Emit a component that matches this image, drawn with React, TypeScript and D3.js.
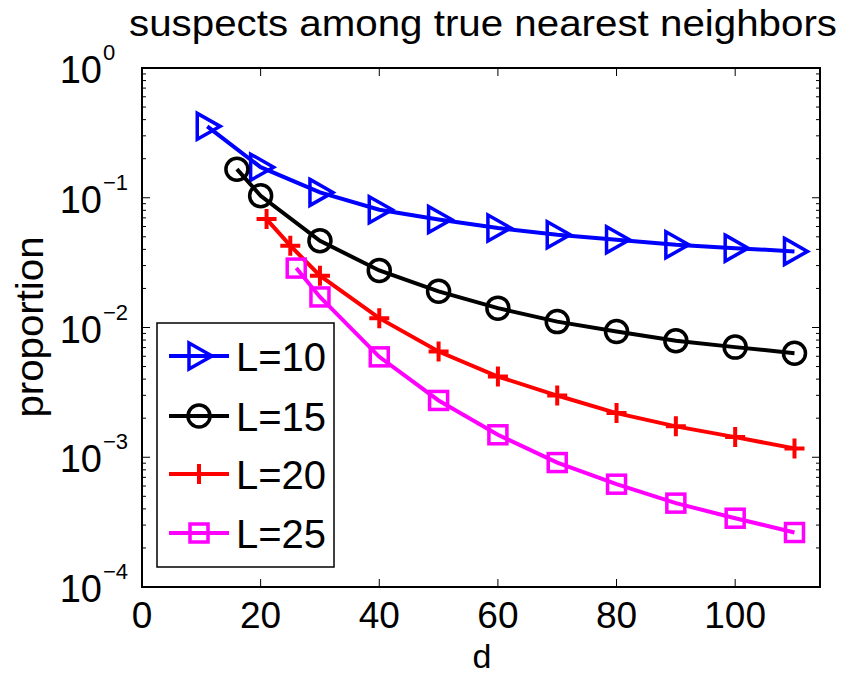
import React, { useEffect, useRef } from 'react'
import * as d3 from 'd3'

const title = 'suspects among true nearest neighbors'
const xTicks = [0, 20, 40, 60, 80, 100]
const yTicks = [1e-4, 1e-3, 1e-2, 1e-1, 1]
const yExponents = ['−4', '−3', '−2', '−1', '0']

const seriesNames = ['L=10', 'L=15', 'L=20', 'L=25']
const seriesColors = ['#0000ff', '#000000', '#ff0000', '#ff00ff']
const seriesMarkers = ['triangle', 'circle', 'plus', 'square']

const dL10 = [11, 20, 30, 40, 50, 60, 70, 80, 90, 100, 110]
const pL10 = [0.355, 0.172, 0.110, 0.0808, 0.0680, 0.0584, 0.0519, 0.0475, 0.0434, 0.0409, 0.0386]
const dL15 = [16, 20, 30, 40, 50, 60, 70, 80, 90, 100, 110]
const pL15 = [0.166, 0.1035, 0.0466, 0.0275, 0.0190, 0.0141, 0.0111, 0.0093, 0.0079, 0.00706, 0.00634]
const dL20 = [21, 25, 30, 40, 50, 60, 70, 80, 90, 100, 110]
const pL20 = [0.0685, 0.0427, 0.0251, 0.0118, 0.00653, 0.00419, 0.00299, 0.00219, 0.00173, 0.00143, 0.00117]
const dL25 = [26, 30, 40, 50, 60, 70, 80, 90, 100, 110]
const pL25 = [0.0287, 0.0172, 0.00594, 0.00274, 0.00149, 0.00091, 0.00062, 0.000443, 0.000339, 0.000263]

const xs = [dL10, dL15, dL20, dL25]
const ys = [pL10, pL15, pL20, pL25]

const W = 845
const H = 675
const left = 142, right = 820, top = 68, bottom = 587
const FONT = '"Liberation Sans", Arial, Helvetica, sans-serif'

function drawMarker(g: any, kind: string, x: number, y: number, color: string) {
    if (kind === 'triangle') {
        g.append('path')
            .attr('d', `M${x - 10},${y - 13} L${x + 13},${y} L${x - 10},${y + 13} Z`)
            .attr('fill', 'none').attr('stroke', color).attr('stroke-width', 3.5)
    } else if (kind === 'circle') {
        g.append('circle').attr('cx', x).attr('cy', y).attr('r', 11)
            .attr('fill', 'none').attr('stroke', color).attr('stroke-width', 3.5)
    } else if (kind === 'plus') {
        g.append('path')
            .attr('d', `M${x - 10},${y} L${x + 10},${y} M${x},${y - 10} L${x},${y + 10}`)
            .attr('stroke', color).attr('stroke-width', 4)
    } else {
        g.append('rect').attr('x', x - 9).attr('y', y - 9).attr('width', 18).attr('height', 18)
            .attr('fill', 'none').attr('stroke', color).attr('stroke-width', 3.5)
    }
}

export default function App() {
    const ref = useRef<SVGSVGElement>(null)

    useEffect(() => {
        const svg = d3.select(ref.current)
        svg.selectAll('*').remove()

        const xscale = d3.scaleLinear().domain([0, 114.3]).range([left, right])
        const yscale = d3.scaleLog().domain([1e-4, 1]).range([bottom, top])

        svg.append('rect').attr('width', W).attr('height', H).attr('fill', '#fff')

        // minor + major ticks on the log axis, both sides, pointing in
        const g = svg.append('g')
        for (let e = -4; e < 0; e++) {
            for (let k = 1; k <= 9; k++) {
                const y = yscale(k * Math.pow(10, e))
                const len = k === 1 ? 8 : 4
                g.append('line').attr('x1', left).attr('x2', left + len).attr('y1', y).attr('y2', y)
                    .attr('stroke', '#000').attr('stroke-width', 1)
                g.append('line').attr('x1', right).attr('x2', right - len).attr('y1', y).attr('y2', y)
                    .attr('stroke', '#000').attr('stroke-width', 1)
            }
        }
        xTicks.forEach(t => {
            const x = xscale(t)
            g.append('line').attr('x1', x).attr('x2', x).attr('y1', bottom).attr('y2', bottom - 8)
                .attr('stroke', '#000').attr('stroke-width', 1)
            g.append('line').attr('x1', x).attr('x2', x).attr('y1', top).attr('y2', top + 8)
                .attr('stroke', '#000').attr('stroke-width', 1)
        })

        // axis box
        svg.append('rect').attr('x', left).attr('y', top)
            .attr('width', right - left).attr('height', bottom - top)
            .attr('fill', 'none').attr('stroke', '#000').attr('stroke-width', 2)

        // tick labels
        xTicks.forEach(t => {
            svg.append('text').attr('x', xscale(t)).attr('y', 628)
                .attr('text-anchor', 'middle').attr('font-family', FONT).attr('font-size', 37)
                .text(String(t))
        })
        yTicks.forEach((t, i) => {
            const y = yscale(t)
            svg.append('text').attr('x', 102).attr('y', y + 15)
                .attr('text-anchor', 'end').attr('font-family', FONT).attr('font-size', 38)
                .text('10')
            svg.append('text').attr('x', 103).attr('y', y - 8)
                .attr('text-anchor', 'start').attr('font-family', FONT).attr('font-size', 22)
                .text(yExponents[i])
        })

        // axis labels and title
        svg.append('text').attr('x', 482).attr('y', 667.5)
            .attr('text-anchor', 'middle').attr('font-family', FONT).attr('font-size', 34)
            .text('d')
        svg.append('text').attr('transform', `translate(43,327) rotate(-90)`)
            .attr('text-anchor', 'middle').attr('font-family', FONT).attr('font-size', 38)
            .attr('textLength', 181).attr('lengthAdjust', 'spacingAndGlyphs')
            .text('proportion')
        svg.append('text').attr('x', 483).attr('y', 36)
            .attr('text-anchor', 'middle').attr('font-family', FONT).attr('font-size', 37)
            .attr('textLength', 708).attr('lengthAdjust', 'spacingAndGlyphs')
            .text(title)

        // series
        const line = d3.line<[number, number]>()
            .x(d => xscale(d[0]))
            .y(d => yscale(d[1]))
        seriesNames.forEach((name, s) => {
            const pts: [number, number][] = xs[s].map((d, i) => [d, ys[s][i]])
            svg.append('path').datum(pts).attr('d', line)
                .attr('fill', 'none').attr('stroke', seriesColors[s]).attr('stroke-width', 4)
            const mg = svg.append('g')
            pts.forEach(p => drawMarker(mg, seriesMarkers[s], xscale(p[0]), yscale(p[1]), seriesColors[s]))
        })

        // legend
        const lg = svg.append('g')
        lg.append('rect').attr('x', 157).attr('y', 323).attr('width', 177).attr('height', 244)
            .attr('fill', '#fff').attr('stroke', '#000').attr('stroke-width', 1.5)
        const rowY = [356, 416, 474, 533]
        seriesNames.forEach((name, s) => {
            lg.append('line').attr('x1', 169).attr('x2', 229).attr('y1', rowY[s]).attr('y2', rowY[s])
                .attr('stroke', seriesColors[s]).attr('stroke-width', 4)
            drawMarker(lg, seriesMarkers[s], 199, rowY[s], seriesColors[s])
            lg.append('text').attr('x', 236).attr('y', rowY[s] + 15)
                .attr('font-family', FONT).attr('font-size', 40)
                .text(name)
        })
    }, [])

    return (
        <svg ref={ref} width={W} height={H}
            style={{ position: 'absolute', left: 0, top: 0 }} />
    )
}
